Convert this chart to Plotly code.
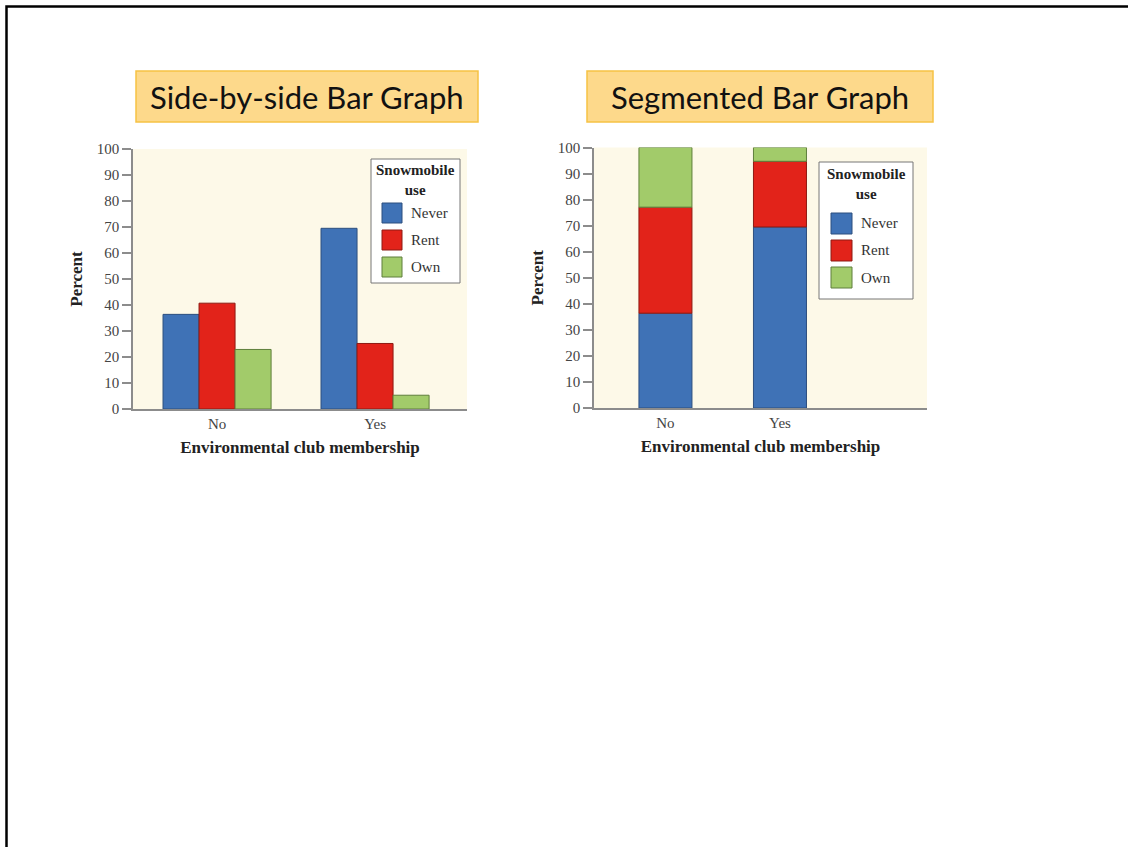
import plotly.graph_objects as go

W, H = 1128, 847

# Environmental club membership vs. snowmobile use (percent within each group)
membership = ["No", "Yes"]
use_levels = ["Never", "Rent", "Own"]
never_pct = [36.4, 69.5]
rent_pct = [40.7, 25.2]
own_pct = [22.9, 5.3]
y_ticks = list(range(0, 101, 10))

use_colors = ["#3f72b6", "#e2231a", "#a2cb6a"]
edge_colors = ["#2d4f7f", "#8e1a12", "#5f7f3c"]
series = [never_pct, rent_pct, own_pct]

SERIF = "Liberation Serif"
AXIS_GRAY = "#8c8c8c"


def fx(px):
    return px / W


def fy(py):
    return 1 - py / H


fig = go.Figure()

# Side-by-side bars: three bars per membership group
group_bar_w = 0.228
for i, (name, vals) in enumerate(zip(use_levels, series)):
    fig.add_trace(go.Bar(
        x=membership, y=vals, name=name,
        width=group_bar_w, offset=(i - 1.5) * group_bar_w,
        marker=dict(color=use_colors[i], line=dict(color=edge_colors[i], width=1)),
        xaxis="x", yaxis="y", showlegend=False,
    ))

# Segmented bars: each segment sits on the running total of the ones below
base = [0.0] * len(membership)
for i, (name, vals) in enumerate(zip(use_levels, series)):
    fig.add_trace(go.Bar(
        x=membership, y=vals, base=list(base), name=name,
        width=0.463,
        marker=dict(color=use_colors[i], line=dict(color=edge_colors[i], width=1)),
        xaxis="x2", yaxis="y2", showlegend=False,
    ))
    base = [b + v for b, v in zip(base, vals)]

axis_common = dict(
    showline=True, linecolor=AXIS_GRAY, linewidth=1.5,
    showgrid=False, zeroline=False, automargin=False,
    tickfont=dict(family=SERIF, size=15, color="#444"),
)
x_common = dict(axis_common, ticks="", type="category",
                title=dict(text="<b>Environmental club membership</b>",
                           font=dict(family=SERIF, size=17, color="#222"),
                           standoff=10))
y_common = dict(axis_common, range=[0, 100], tickvals=y_ticks,
                ticks="outside", ticklen=9, tickwidth=1.5, tickcolor=AXIS_GRAY,
                title=dict(text="<b>Percent</b>",
                           font=dict(family=SERIF, size=17, color="#222"),
                           standoff=10))

shapes = []
annotations = []

# Slide frame
shapes.append(dict(type="rect", xref="paper", yref="paper",
                   x0=fx(6.5), x1=1.02, y0=-0.02, y1=fy(6.5),
                   line=dict(color="black", width=2.5), fillcolor="rgba(0,0,0,0)"))


def title_box(x0, y0, x1, y1, text):
    shapes.append(dict(type="rect", xref="paper", yref="paper",
                       x0=fx(x0), x1=fx(x1), y0=fy(y1), y1=fy(y0),
                       fillcolor="#fdd98b", line=dict(color="#f6c244", width=1.5),
                       layer="below"))
    annotations.append(dict(xref="paper", yref="paper",
                            x=fx((x0 + x1) / 2), y=fy((y0 + y1) / 2),
                            text=text, showarrow=False,
                            xanchor="center", yanchor="middle",
                            font=dict(family="Lato", size=31, color="#111")))


def legend_box(x0, y0, x1, y1, sw_x, sw_tops, sw_size, text_x, title_y):
    shapes.append(dict(type="rect", xref="paper", yref="paper",
                       x0=fx(x0), x1=fx(x1), y0=fy(y1), y1=fy(y0),
                       fillcolor="white", line=dict(color="#777", width=1)))
    annotations.append(dict(xref="paper", yref="paper",
                            x=fx((x0 + x1) / 2), y=fy(title_y),
                            text="<b>Snowmobile<br>use</b>", showarrow=False,
                            xanchor="center", yanchor="middle", align="center",
                            font=dict(family=SERIF, size=15, color="#222")))
    for i, name in enumerate(use_levels):
        top = sw_tops[i]
        shapes.append(dict(type="rect", xref="paper", yref="paper",
                           x0=fx(sw_x), x1=fx(sw_x + sw_size),
                           y0=fy(top + sw_size), y1=fy(top),
                           fillcolor=use_colors[i],
                           line=dict(color=edge_colors[i], width=1)))
        annotations.append(dict(xref="paper", yref="paper",
                                x=fx(text_x), y=fy(top + sw_size / 2),
                                text=name, showarrow=False,
                                xanchor="left", yanchor="middle",
                                font=dict(family=SERIF, size=15, color="#333")))


title_box(136, 71, 478, 122, "Side-by-side Bar Graph")
title_box(587, 71, 933, 122, "Segmented Bar Graph")
legend_box(371, 159, 460, 283, 382, [203, 230, 257], 20, 409, 180)
legend_box(819, 162, 913, 299, 831, [213, 240, 267], 21, 859, 184)

fig.update_layout(
    template="none",
    width=W, height=H, autosize=False,
    margin=dict(l=0, r=0, t=0, b=0, pad=0, autoexpand=False),
    paper_bgcolor="white",
    plot_bgcolor="#fdf9e8",
    barmode="overlay",
    showlegend=False,
    xaxis=dict(x_common, domain=[fx(133), fx(467)], range=[-0.532, 1.582], anchor="y"),
    yaxis=dict(y_common, domain=[fy(409), fy(149)], anchor="x"),
    xaxis2=dict(x_common, domain=[fx(594), fx(927)], range=[-0.624, 2.284], anchor="y2"),
    yaxis2=dict(y_common, domain=[fy(408), fy(147.5)], anchor="x2"),
    shapes=shapes,
    annotations=annotations,
)

fig.write_html("out.html")
